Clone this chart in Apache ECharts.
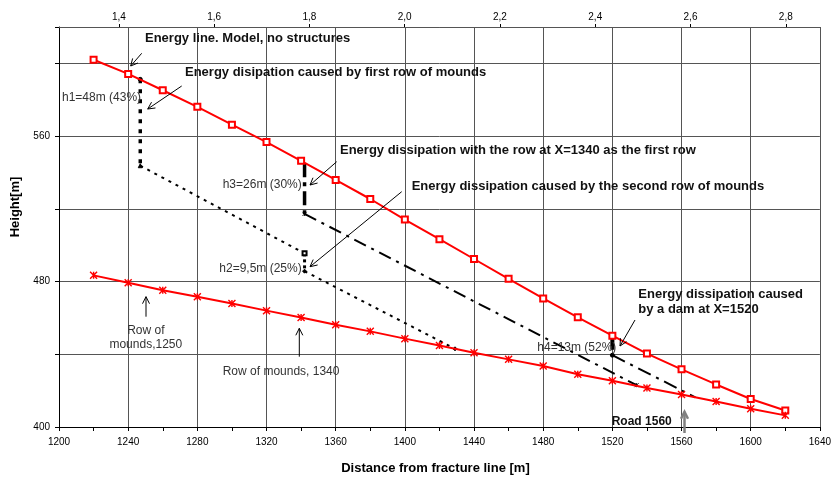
<!DOCTYPE html>
<html>
<head>
<meta charset="utf-8">
<script src="https://cdn.jsdelivr.net/npm/echarts@6/dist/echarts.min.js"></script>
<style>html,body{margin:0;padding:0;background:#fff}#c{width:834px;height:480px}</style>
</head>
<body>
<div id="c"></div>
<script>
// ---- data ----
const distance = [1220,1240,1260,1280,1300,1320,1340,1360,1380,1400,1420,1440,1460,1480,1500,1520,1540,1560,1580,1600,1620];
const energyLine = [602.0,594.2,585.2,576.1,566.3,556.7,546.4,535.9,525.4,514.1,503.3,492.4,481.5,470.7,460.3,450.2,440.4,431.7,423.4,415.4,409.1];
const groundLine = [483.4,479.3,475.2,471.6,467.9,464.0,460.2,456.2,452.6,448.6,444.8,440.8,437.2,433.5,429.0,425.4,421.4,417.9,414.0,410.0,406.4];

const h1Drop = [[1247,591.2],[1247,543.7]];
const firstRowLine = [[1247,543.7],[1342,495.5]];
const h2Drop = [[1342,495.5],[1342,485.7]];
const secondRowLine = [[1342,485.7],[1429,443.0]];
const h3Drop = [[1342,545.0],[1342,517.2]];
const row1340Line = [[1342,517.2],[1534,423.0]];
const h4Drop = [[1520,450.2],[1520,439.5]];
const damLine = [[1520,439.5],[1568,416.3]];

const yTickLabels = [400,480,560];
const topTickValues = [1.4,1.6,1.8,2.0,2.2,2.4,2.6,2.8];

// ---- chart ----
const FONT = '"Liberation Sans", Arial, sans-serif';
const chart = echarts.init(document.getElementById('c'), null, {renderer:'canvas'});
const pair = (a, b) => a.map((v, i) => [v, b[i]]);
const starPath = 'path://M0,0L10,10M10,0L0,10M5,0L5,10';

function blackLine(name, data, type, width, syms){
  return {
    name, type:'line', data, xAxisIndex:0, yAxisIndex:0,
    symbol: (v, p) => (syms && syms[p.dataIndex]) || 'none',
    symbolSize: 4, showSymbol:true,
    itemStyle:{color:'#000', borderColor:'#000', borderWidth:1},
    lineStyle:{color:'#000', width, type},
    z:3, silent:true
  };
}

function arrow(x1,y1,x2,y2,color,w){
  const a = Math.atan2(y2-y1, x2-x1), L = 7, H = 3.5;
  const bx = x2 - L*Math.cos(a), by = y2 - L*Math.sin(a);
  const p1 = [bx + H*Math.sin(a), by - H*Math.cos(a)];
  const p2 = [bx - H*Math.sin(a), by + H*Math.cos(a)];
  return [
    {type:'line', shape:{x1,y1,x2,y2}, style:{stroke:color, lineWidth:w}, z:10},
    {type:'polyline', shape:{points:[p1,[x2,y2],p2]}, style:{stroke:color, lineWidth:w, fill:null}, z:10}
  ];
}
function txt(text, x, y, bold, size, align, lh){
  return {type:'text', x, y, z:10, style:{
    text, font:(bold?'bold ':'') + size + 'px ' + FONT,
    fill: bold ? '#111' : '#333', align: align || 'left', verticalAlign:'middle',
    lineHeight: lh || size + 2
  }};
}

const graphics = [].concat(
  arrow(141.7,53.3,130.7,66,'#000',1),
  arrow(181.7,86,147.7,109,'#000',1),
  arrow(336.7,161.7,310,185,'#000',1),
  arrow(401.7,191.7,310,266.7,'#000',1),
  arrow(146,316.7,146,296.7,'#000',1),
  arrow(299.3,356.7,299.3,328.3,'#000',1),
  arrow(635,320,620,346,'#000',1),
  arrow(684.5,433,684.5,411.7,'#808080',2.5),
  [
    txt('Energy line. Model, no structures',145,38.3,true,13),
    txt('Energy disipation caused by first row of mounds',185,72.7,true,13),
    txt('h1=48m (43%)',62,97.5,false,12),
    txt('Energy dissipation with the row at X=1340 as the first row',340,150.7,true,13),
    txt('h3=26m (30%)',222.7,185,false,12),
    txt('Energy dissipation caused by the second row of mounds',411.7,186.7,true,13),
    txt('h2=9,5m (25%)',219.3,268.3,false,12),
    txt('Row of\nmounds,1250',145.8,338,false,12,'center',14),
    txt('Row of mounds, 1340',222.7,371.7,false,12),
    txt('Energy dissipation caused\nby a dam at X=1520',638.3,301.7,true,13,'left',15.3),
    txt('h4=13m (52%)',537.3,347.3,false,12),
    txt('Road 1560',611.7,421.7,true,12)
  ]
);

const option = {
  animation:false,
  backgroundColor:'#fff',
  textStyle:{fontFamily:FONT},
  grid:{left:59, right:11.5, top:27, bottom:48.3, containLabel:false},
  xAxis:[{
    type:'value', position:'bottom', min:1200, max:1640, interval:40,
    name:'Distance from fracture line [m]', nameLocation:'middle', nameGap:35,
    nameTextStyle:{fontWeight:'bold', fontSize:13, color:'#000', fontFamily:FONT, padding:[0,8,0,0]},
    axisLine:{show:true, lineStyle:{color:'#000', width:1}},
    axisTick:{show:true, length:4, lineStyle:{color:'#000'}},
    minorTick:{show:true, splitNumber:2, length:4, lineStyle:{color:'#000'}},
    axisLabel:{fontSize:10, color:'#000', margin:10, fontFamily:FONT, formatter: v => String(v)},
    splitLine:{show:true, lineStyle:{color:'#555', width:1}}
  },{
    type:'value', position:'top', min:1.2742, max:2.8716,
    axisLine:{show:true, lineStyle:{color:'#555', width:1}},
    axisTick:{show:true, length:3, customValues:topTickValues, lineStyle:{color:'#000'}},
    axisLabel:{fontSize:10, color:'#000', margin:5, fontFamily:FONT, customValues:topTickValues,
      formatter: v => v.toFixed(1).replace('.', ',')},
    splitLine:{show:false}
  }],
  yAxis:[{
    type:'value', min:400, max:620, interval:40,
    name:'Height[m]', nameLocation:'middle', nameGap:34, nameRotate:90,
    nameTextStyle:{fontWeight:'bold', fontSize:13, color:'#000', fontFamily:FONT, padding:[0,0,0,40]},
    axisLine:{show:true, lineStyle:{color:'#000', width:1}},
    axisTick:{show:true, length:4, lineStyle:{color:'#000'}},
    axisLabel:{fontSize:10, color:'#000', margin:9, fontFamily:FONT,
      formatter: v => yTickLabels.indexOf(v) >= 0 ? String(v) : ''},
    splitLine:{show:true, lineStyle:{color:'#555', width:1}}
  }],
  series:[
    {
      name:'Energy line', type:'line', data:pair(distance, energyLine),
      symbol:'emptyRect', symbolSize:6,
      itemStyle:{color:'#ff0000', borderColor:'#ff0000', borderWidth:1.2},
      lineStyle:{color:'#ff0000', width:2}, z:4
    },
    {
      name:'Ground', type:'line', data:pair(distance, groundLine),
      symbol:starPath, symbolSize:7,
      itemStyle:{color:'rgba(0,0,0,0)', borderColor:'#ff0000', borderWidth:1.4},
      lineStyle:{color:'#ff0000', width:2}, z:4
    },
    blackLine('h1', h1Drop, [4,6], 3.5, ['circle','triangle']),
    blackLine('first row', firstRowLine, [3,5], 2),
    blackLine('h2', h2Drop, [3,3], 3, ['emptyRect','diamond']),
    blackLine('second row', secondRowLine, [3,5], 2, [null,'diamond']),
    blackLine('h3', h3Drop, [14,5,4,5], 3.5),
    blackLine('row 1340', row1340Line, [13,6,3,6], 2, [starPath, starPath]),
    blackLine('h4', h4Drop, [14,5,2,5], 4),
    blackLine('dam', damLine, [14,6,3,6], 2, ['circle', null])
  ],
  graphic: graphics
};
chart.setOption(option);
</script>
</body>
</html>
